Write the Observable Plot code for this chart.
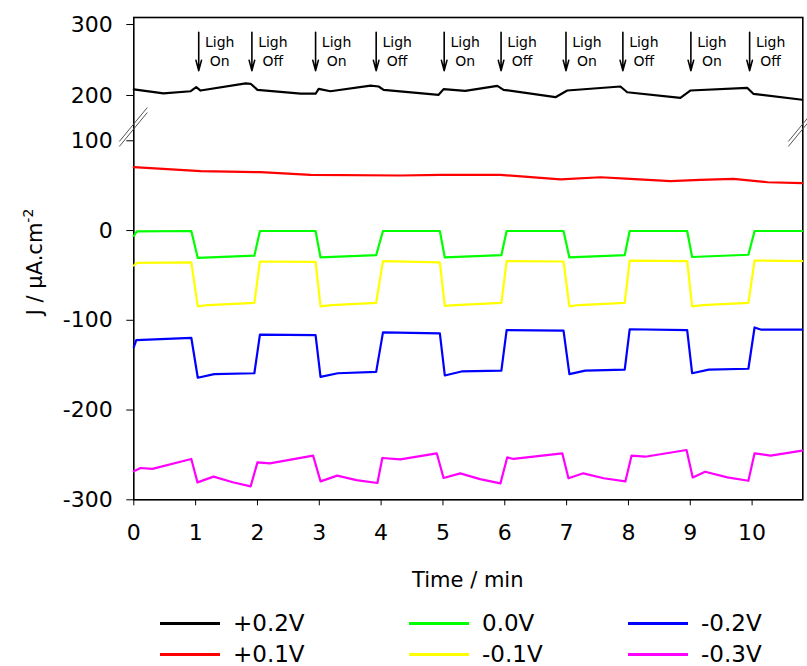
<!DOCTYPE html>
<html><head><meta charset="utf-8">
<script src="https://cdn.jsdelivr.net/npm/d3@7"></script>
<script src="https://cdn.jsdelivr.net/npm/@observablehq/plot@0.6"></script>
<style>
body{margin:0;background:#fff;font-family:"DejaVu Sans",sans-serif;overflow:hidden;}
#legend{position:relative;width:807px;height:66px;}
.item{position:absolute;display:flex;align-items:center;height:22px;line-height:22px;font-size:23px;color:#000;white-space:nowrap;}
.item .sw{display:inline-block;width:60px;height:3px;margin-right:13px;}
</style></head><body><div id="chart"></div><div id="legend"></div>
<script>
// ---- data ----
const seriesNames = ["+0.2V","+0.1V","0.0V","-0.1V","-0.2V","-0.3V"];
const seriesColors = ["#000000","#ff0000","#00ff00","#ffff00","#0000ff","#ff00ff"];

const s_p02 = [[0,208.5],[0.48,203],[0.92,206],[1.01,211.7],[1.08,207],[1.81,217],[1.89,216.5],[2.0,208],[2.7,202.5],[2.94,202.5],[2.99,209.4],[3.18,206],[3.83,214],[3.96,212.7],[4.04,208],[4.93,201],[5.01,209],[5.36,206.6],[5.88,213.6],[5.98,208],[6.82,197.6],[7.01,207],[7.87,212.7],[7.98,204.6],[8.84,196.7],[9.0,207],[9.92,210.8],[10.02,202.4],[10.81,194]];
const s_p01 = [[0,70.6],[1.08,66.1],[2.05,65],[2.86,62],[4.31,61.3],[4.96,62],[5.93,62],[6.9,56.9],[7.55,59.4],[8.03,57.6],[8.68,55],[9.16,56.5],[9.7,57.6],[10.25,53.8],[10.81,52.8]];
const s_000 = [[0,-6],[0.05,-1],[0.93,-0.5],[1.035,-30.5],[1.95,-28],[2.04,-0.5],[2.94,-0.5],[3.02,-30],[3.92,-27.5],[4.03,-0.5],[4.95,-0.5],[5.03,-30],[5.945,-27.5],[6.03,-0.5],[6.95,-0.5],[7.045,-30],[7.94,-27.5],[8.02,-0.5],[8.95,-0.5],[9.03,-29.5],[9.94,-27],[10.04,-0.5],[10.81,-0.5]];
const s_m01 = [[0,-39],[0.05,-36],[0.93,-35.5],[1.035,-84.5],[1.2,-83],[1.95,-80.5],[2.04,-34.5],[2.94,-35],[3.02,-84.5],[3.2,-83],[3.92,-80.5],[4.03,-34],[4.95,-35.5],[5.03,-84],[5.2,-83],[5.945,-80.5],[6.03,-34],[6.95,-34.5],[7.045,-84.5],[7.2,-83],[7.94,-80.5],[8.02,-33.5],[8.95,-34],[9.03,-84.5],[9.2,-83],[9.94,-80.5],[10.04,-33.5],[10.81,-34]];
const s_m02 = [[0,-130],[0.04,-122],[0.93,-119.5],[1.035,-164],[1.3,-160],[1.95,-159],[2.04,-116],[2.94,-116.5],[3.02,-163],[3.3,-159],[3.92,-157.5],[4.03,-113.5],[4.95,-114.5],[5.03,-161.5],[5.3,-157],[5.945,-156],[6.03,-111],[6.95,-111.5],[7.045,-160],[7.3,-156],[7.94,-155],[8.02,-110],[8.95,-111],[9.03,-159],[9.3,-155],[9.94,-154],[10.04,-108],[10.15,-110.5],[10.81,-110.5]];
const s_m03 = [[0,-268.3],[0.11,-264.6],[0.3,-265.5],[0.93,-254.5],[1.03,-280.6],[1.29,-274.2],[1.6,-280.5],[1.89,-285],[2.0,-258.3],[2.2,-259.4],[2.9,-250.8],[3.02,-279.5],[3.29,-273.1],[3.6,-278],[3.94,-281.3],[4.02,-253.4],[4.31,-255],[4.9,-248.2],[5.01,-275.7],[5.28,-270.5],[5.6,-277],[5.93,-281.7],[6.04,-252.7],[6.14,-254.5],[6.93,-248.2],[7.03,-276],[7.27,-270.5],[7.6,-276],[7.95,-279.5],[8.05,-250.8],[8.27,-252],[8.94,-244.5],[9.04,-275.1],[9.24,-268.7],[9.6,-275],[9.94,-278.8],[10.04,-248.2],[10.3,-250.8],[10.81,-245.3]];
const seriesData = [s_p02, s_p01, s_000, s_m01, s_m02, s_m03];

const lightTimes = [1.05,1.91,2.94,3.92,5.02,5.94,6.99,7.91,9.01,9.96];
const lightStates = ["On","Off","On","Off","On","Off","On","Off","On","Off"];
const arrowTop = 289, arrowBottom = 235, labelY = 263;

const xDomain = [0, 10.82];
const xTicks = [0,1,2,3,4,5,6,7,8,9,10];
const yTicks = [-300,-200,-100,0,100,200,300];
// broken axis: lower segment -300..114.8, upper segment 154.9..309.9
const breakLow = 114.8, breakHigh = 154.9;
const yDomain = [-300, breakLow, breakHigh, 309.9];
const yRange = [499.3, 127, 127, 17];

// ---- build ----
const rows = [];
seriesData.forEach((s, i) => s.forEach(([t, v]) => rows.push({series: seriesNames[i], t, v})));
const ann = lightTimes.map((t, i) => ({t, label: "Ligh\n" + lightStates[i]}));

function decorations(index, scales) {
  const g = d3.create("svg:g");
  const yb = scales.y(breakLow);
  for (const cx of [scales.x(xDomain[0]), scales.x(xDomain[1])]) {
    for (const off of [-2.5, 2.5]) {
      g.append("line").attr("x1", cx - 14).attr("y1", yb + off + 17)
        .attr("x2", cx + 14).attr("y2", yb + off - 17)
        .attr("stroke", "#555").attr("stroke-width", 1);
    }
  }
  const yt = g.append("text").attr("transform", "translate(35,262) rotate(-90)")
    .attr("text-anchor", "middle").attr("dy", "0.35em")
    .attr("font-size", 21).attr("fill", "black");
  yt.append("tspan").text("J / μA.cm");
  yt.append("tspan").attr("font-size", 14).attr("dy", "-0.7em").text("-2");
  g.append("text").attr("x", (scales.x(xDomain[0]) + scales.x(xDomain[1])) / 2).attr("y", 587)
    .attr("text-anchor", "middle").attr("font-size", 21).attr("fill", "black").text("Time / min");
  return g.node();
}

const chart = Plot.plot({
  width: 807, height: 600,
  marginLeft: 133.3, marginRight: 4.7, marginTop: 17, marginBottom: 100.7,
  style: {fontFamily: "DejaVu Sans", fontSize: "22px", background: "white", color: "black", overflow: "visible"},
  x: {domain: xDomain, ticks: xTicks, tickSize: 6, tickPadding: 19, tickFormat: d => String(d), label: null},
  y: {type: "linear", domain: yDomain, range: yRange, ticks: yTicks, tickSize: 7, tickPadding: 14, tickFormat: d => String(d), label: null},
  color: {domain: seriesNames, range: seriesColors},
  marks: [
    Plot.frame({stroke: "black", strokeWidth: 1.6}),
    Plot.line(rows, {x: "t", y: "v", z: "series", stroke: "series", strokeWidth: 2.2, curve: "linear"}),
    Plot.arrow(ann, {x1: "t", x2: "t", y1: () => arrowTop, y2: () => arrowBottom, stroke: "black", strokeWidth: 1.6, headLength: 10, headAngle: 30}),
    Plot.text(ann, {x: "t", y: () => labelY, text: "label", dx: 21, fontSize: 14, lineHeight: 1.35, textAnchor: "middle", fill: "black"}),
    decorations
  ]
});
document.getElementById("chart").appendChild(chart);

// legend
const legend = document.getElementById("legend");
const colLeft = [160, 409, 628], rowTop = [12, 43];
seriesNames.forEach((name, i) => {
  const d = document.createElement("div");
  d.className = "item";
  d.style.left = colLeft[Math.floor(i / 2)] + "px";
  d.style.top = rowTop[i % 2] + "px";
  const sw = document.createElement("span");
  sw.className = "sw"; sw.style.background = seriesColors[i];
  d.appendChild(sw);
  d.appendChild(document.createTextNode(name));
  legend.appendChild(d);
});
</script></body></html>
